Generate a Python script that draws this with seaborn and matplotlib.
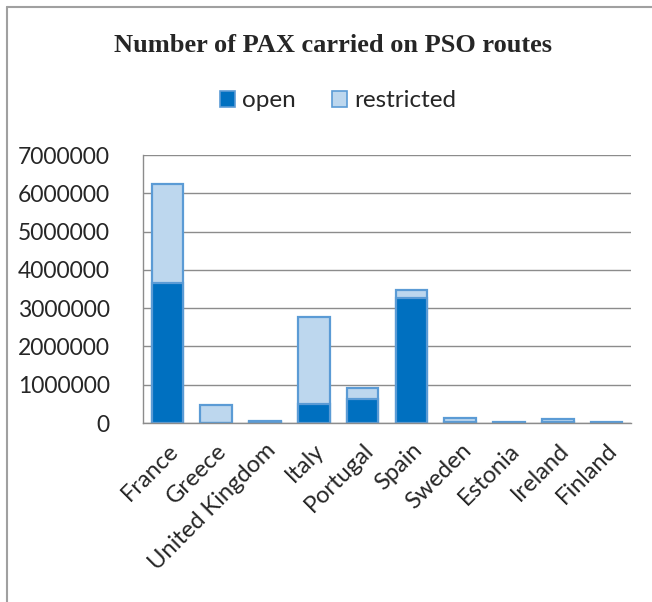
import matplotlib
matplotlib.use("Agg")
import matplotlib.pyplot as plt
import seaborn as sns
import pandas as pd
from matplotlib.patches import Patch
from matplotlib.lines import Line2D
from matplotlib.ticker import MultipleLocator, FuncFormatter

countries = ["France", "Greece", "United Kingdom", "Italy", "Portugal",
             "Spain", "Sweden", "Estonia", "Ireland", "Finland"]
open_pax = [3650000, 0, 20000, 500000, 620000, 3270000, 30000, 5000, 30000, 10000]
restricted_pax = [2600000, 470000, 40000, 2280000, 300000, 200000, 110000, 15000, 70000, 20000]

df = pd.DataFrame({"country": countries, "open": open_pax, "restricted": restricted_pax})
df["total"] = df["open"] + df["restricted"]

sns.set_theme(style="white")
plt.rcParams["font.family"] = ["Lato", "DejaVu Sans"]

open_col = "#0070c0"
restr_col = "#bdd7ee"
edge_col = "#5b9bd5"

W, H = 652, 602
fig = plt.figure(figsize=(W / 100, H / 100), dpi=100)
ax = fig.add_axes([143 / W, 1 - 423 / H, (631 - 143) / W, (423 - 155) / H])

# stacked bars: the full total in light blue, the open share drawn over it
sns.barplot(data=df, x="country", y="total", color=restr_col, width=0.65,
            edgecolor=edge_col, linewidth=1.6, saturation=1, ax=ax)
sns.barplot(data=df, x="country", y="open", color=open_col, width=0.65,
            edgecolor=edge_col, linewidth=1.6, saturation=1, ax=ax)

ax.set_ylim(0, 7000000)
ax.set_xlim(-0.5, len(countries) - 0.5)
ax.yaxis.set_major_locator(MultipleLocator(1000000))
ax.yaxis.set_major_formatter(FuncFormatter(lambda v, p: f"{int(v)}"))
ax.grid(axis="y", color="#8c8c8c", linewidth=1)
ax.set_axisbelow(True)
ax.set_xlabel("")
ax.set_ylabel("")
for s in ["top", "right"]:
    ax.spines[s].set_visible(False)
for s in ["left", "bottom"]:
    ax.spines[s].set_color("#8c8c8c")
    ax.spines[s].set_linewidth(1)
ax.tick_params(axis="y", left=False, labelsize=16.5, pad=18)
ax.tick_params(axis="x", bottom=False, labelsize=17, pad=6)
plt.setp(ax.get_xticklabels(), rotation=45, ha="right", rotation_mode="anchor")

fig.text(333 / W, 1 - 46 / H, "Number of PAX carried on PSO routes",
         ha="center", va="center", fontsize=19, fontweight="bold",
         family="Liberation Serif")

handles = [Patch(facecolor=open_col, edgecolor=edge_col, linewidth=1.2, label="open"),
           Patch(facecolor=restr_col, edgecolor=edge_col, linewidth=1.2, label="restricted")]
fig.legend(handles=handles, loc="center", bbox_to_anchor=(338 / W, 1 - 101 / H),
           ncol=2, frameon=False, fontsize=17.5, handlelength=0.6, handleheight=0.6,
           handletextpad=0.3, columnspacing=1.5)

# chart-area frame: only its top and left edges fall inside the image
fig.add_artist(Line2D([7 / W, 7 / W], [0, 1 - 7 / H], transform=fig.transFigure,
                      color="#a0a0a0", linewidth=1.5))
fig.add_artist(Line2D([7 / W, 1], [1 - 7 / H, 1 - 7 / H], transform=fig.transFigure,
                      color="#a0a0a0", linewidth=1.5))

fig.savefig("out.png", dpi=100)
